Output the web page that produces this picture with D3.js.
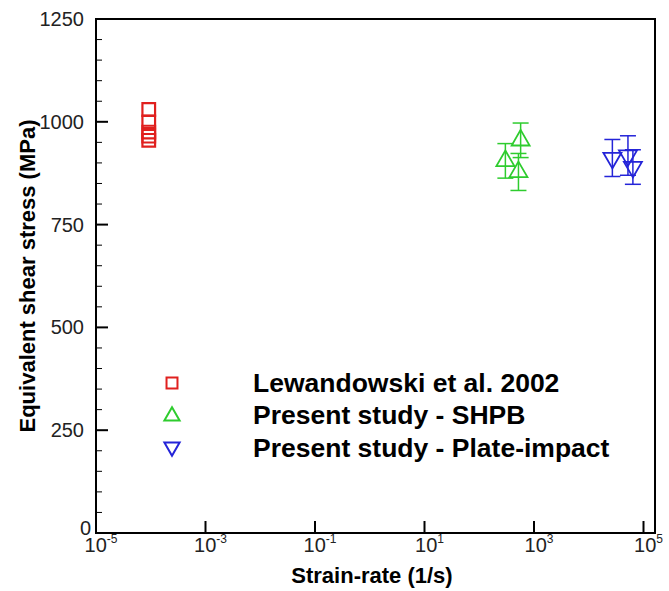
<!DOCTYPE html>
<html>
<head>
<meta charset="utf-8">
<script src="https://cdn.jsdelivr.net/npm/d3@7"></script>
<style>
  body { margin: 0; background: #fff; }
  text { font-family: "Liberation Sans", Arial, sans-serif; }
</style>
</head>
<body>
<script>
// data
var lewandowskiRate = [1e-4, 1e-4, 1e-4, 1e-4, 1e-4];
var lewandowskiStress = [1030, 1000, 975, 965, 955];

var shpbRate = [300, 570, 520];
var shpbStress = [905, 955, 878];
var shpbErr = [42, 42, 45];

var plateRate = [27000, 52000, 64000];
var plateStress = [912, 918, 890];
var plateErr = [45, 48, 42];

var yTicks = [0, 250, 500, 750, 1000, 1250];
var xTickExp = [-5, -3, -1, 1, 3, 5];
var legendLabels = ['Lewandowski et al. 2002', 'Present study - SHPB', 'Present study - Plate-impact'];

var red = '#e0201e', green = '#2ecc2e', blue = '#2424d8';

var width = 669, height = 591;
// plot box edges (don't use "top" - clashes with window.top)
var pLeft = 96, pRight = 655, pTop = 19, pBottom = 533;

var svg = d3.select('body').append('svg')
    .attr('width', width).attr('height', height);

var x = d3.scaleLog().domain([1e-5, Math.pow(10, 5.21)]).range([pLeft, pRight]);
var y = d3.scaleLinear().domain([0, 1250]).range([pBottom, pTop]);

// frame
svg.append('rect')
    .attr('x', pLeft).attr('y', pTop)
    .attr('width', pRight - pLeft).attr('height', pBottom - pTop)
    .attr('fill', 'none').attr('stroke', '#000').attr('stroke-width', 2);

// y ticks, inward
var yMinor = d3.range(0, 1251, 50).filter(function(v){ return v % 250 != 0; });
svg.selectAll('.yminor').data(yMinor).enter().append('line')
    .attr('x1', pLeft).attr('x2', pLeft + 6)
    .attr('y1', function(d){ return y(d); }).attr('y2', function(d){ return y(d); })
    .attr('stroke', '#000').attr('stroke-width', 1);
svg.selectAll('.ymajor').data(yTicks).enter().append('line')
    .attr('x1', pLeft).attr('x2', pLeft + 12)
    .attr('y1', function(d){ return y(d); }).attr('y2', function(d){ return y(d); })
    .attr('stroke', '#000').attr('stroke-width', 2);
svg.selectAll('.ylab').data(yTicks).enter().append('text')
    .attr('x', function(d){ return d == 0 ? pLeft - 5 : pLeft - 12; })
    .attr('y', function(d){ return d == 0 ? y(d) + 2 : y(d) + 7; })
    .attr('text-anchor', 'end').attr('font-size', 20).attr('fill', '#222')
    .text(function(d){ return d; });

// x ticks, inward
svg.selectAll('.xmajor').data(xTickExp).enter().append('line')
    .attr('x1', function(d){ return x(Math.pow(10, d)); })
    .attr('x2', function(d){ return x(Math.pow(10, d)); })
    .attr('y1', pBottom).attr('y2', pBottom - 12)
    .attr('stroke', '#000').attr('stroke-width', 2);
var xl = svg.selectAll('.xlab').data(xTickExp).enter().append('text')
    .attr('x', function(d){ return x(Math.pow(10, d)) + 5; })
    .attr('y', pBottom + 19)
    .attr('text-anchor', 'middle').attr('font-size', 20).attr('fill', '#222');
xl.append('tspan').text('10');
xl.append('tspan').attr('dy', -9).attr('font-size', 12).text(function(d){ return d; });

// axis titles
svg.append('text')
    .attr('x', 372).attr('y', 583)
    .attr('text-anchor', 'middle').attr('font-size', 22).attr('font-weight', 'bold')
    .text('Strain-rate (1/s)');
svg.append('text')
    .attr('transform', 'translate(35,' + (pTop + pBottom) / 2 + ') rotate(-90)')
    .attr('text-anchor', 'middle').attr('font-size', 22).attr('font-weight', 'bold')
    .text('Equivalent shear stress (MPa)');

var sq = d3.symbol().type(d3.symbolSquare).size(160);
var triUp = d3.symbol().type(d3.symbolTriangle).size(140);

function errorBars(rates, vals, errs, color){
    var g = svg.append('g').attr('stroke', color).attr('stroke-width', 1.5).attr('fill', 'none');
    rates.forEach(function(r, i){
        var cx = x(r);
        g.append('line').attr('x1', cx).attr('x2', cx)
            .attr('y1', y(vals[i] + errs[i])).attr('y2', y(vals[i] - errs[i]));
        [vals[i] + errs[i], vals[i] - errs[i]].forEach(function(v){
            g.append('line').attr('x1', cx - 8).attr('x2', cx + 8)
                .attr('y1', y(v)).attr('y2', y(v));
        });
    });
}

// Lewandowski squares
svg.selectAll('.lew').data(lewandowskiStress).enter().append('path')
    .attr('d', sq)
    .attr('transform', function(d, i){ return 'translate(' + (x(lewandowskiRate[i]) - 2) + ',' + y(d) + ')'; })
    .attr('fill', 'none').attr('stroke', red).attr('stroke-width', 2.2);

// SHPB
errorBars(shpbRate, shpbStress, shpbErr, green);
svg.selectAll('.shpb').data(shpbStress).enter().append('path')
    .attr('d', triUp)
    .attr('transform', function(d, i){ return 'translate(' + x(shpbRate[i]) + ',' + y(d) + ')'; })
    .attr('fill', 'none').attr('stroke', green).attr('stroke-width', 1.8);

// plate impact
errorBars(plateRate, plateStress, plateErr, blue);
svg.selectAll('.plate').data(plateStress).enter().append('path')
    .attr('d', triUp)
    .attr('transform', function(d, i){ return 'translate(' + x(plateRate[i]) + ',' + y(d) + ') rotate(180)'; })
    .attr('fill', 'none').attr('stroke', blue).attr('stroke-width', 1.8);

// legend
var legY = [383, 415, 448];
var leg = svg.append('g');
leg.append('path').attr('d', d3.symbol().type(d3.symbolSquare).size(120))
    .attr('transform', 'translate(172,' + legY[0] + ')')
    .attr('fill', 'none').attr('stroke', red).attr('stroke-width', 2);
leg.append('path').attr('d', d3.symbol().type(d3.symbolTriangle).size(100))
    .attr('transform', 'translate(172,' + (legY[1] + 1) + ')')
    .attr('fill', 'none').attr('stroke', green).attr('stroke-width', 2);
leg.append('path').attr('d', d3.symbol().type(d3.symbolTriangle).size(100))
    .attr('transform', 'translate(172,' + (legY[2] - 1) + ') rotate(180)')
    .attr('fill', 'none').attr('stroke', blue).attr('stroke-width', 2);
leg.selectAll('text').data(legendLabels).enter().append('text')
    .attr('x', 253).attr('y', function(d, i){ return legY[i] + 9; })
    .attr('font-size', 26.5).attr('font-weight', 'bold')
    .text(function(d){ return d; });
</script>
</body>
</html>
